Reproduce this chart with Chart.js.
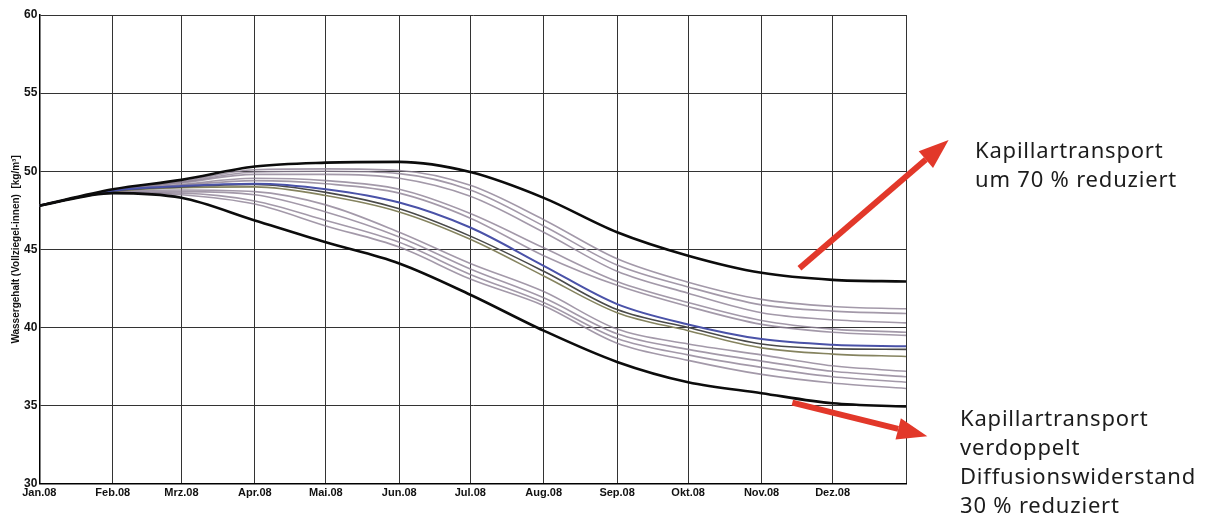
<!DOCTYPE html>
<html lang="de">
<head>
<meta charset="utf-8">
<title>Wassergehalt Vollziegel innen</title>
<script src="https://cdn.jsdelivr.net/npm/chart.js@4.4.1/dist/chart.umd.min.js"></script>
<style>
  html, body { margin: 0; padding: 0; background: #fff; }
  #wrap { position: relative; width: 1212px; height: 525px; }
  .note {
    position: absolute;
    font-family: "Noto Sans", "Open Sans", sans-serif;
    font-size: 22px;
    letter-spacing: 0.8px;
    line-height: 29px;
    color: #1c1c1c;
    white-space: nowrap;
  }
</style>
</head>
<body>
<div id="wrap">
  <canvas id="chart" width="1212" height="525"></canvas>
  <div class="note" style="left:975px; top:135px;">Kapillartransport<br>um 70 % reduziert</div>
  <div class="note" style="left:960px; top:403px;">Kapillartransport<br>verdoppelt<br>Diffusionswiderstand<br>30 % reduziert</div>
</div>
<script>
// day of year (2008) at the start of each month, last entry = 31 Dec end
const monthDays = [0, 31, 60, 91, 121, 152, 182, 213, 244, 274, 305, 335, 366];
const monthLabels = ["Jan.08", "Feb.08", "Mrz.08", "Apr.08", "Mai.08", "Jun.08",
  "Jul.08", "Aug.08", "Sep.08", "Okt.08", "Nov.08", "Dez.08", ""];
const yTicks = [30, 35, 40, 45, 50, 55, 60];

// water content [kg/m³] at each monthDays entry
const kapillar70 = [47.8, 48.85, 49.45, 50.3, 50.55, 50.6, 49.95, 48.3, 46.1, 44.6, 43.5, 43.05, 42.95];
const kapillarX2 = [47.8, 48.6, 48.3, 46.85, 45.45, 44.1, 42.1, 39.8, 37.8, 36.5, 35.8, 35.15, 34.95];
const basis = [47.8, 48.75, 49.05, 49.2, 48.85, 48.0, 46.4, 43.95, 41.5, 40.2, 39.26, 38.9, 38.8];
const varDunkel = [47.8, 48.72, 49.0, 49.15, 48.65, 47.6, 45.85, 43.6, 41.15, 40.0, 38.95, 38.65, 38.6];
const varOliv = [47.8, 48.7, 48.95, 49.0, 48.45, 47.4, 45.65, 43.3, 40.95, 39.8, 38.7, 38.3, 38.15];
const varA = [47.8, 48.82, 49.35, 50.1, 50.15, 50.05, 49.1, 46.9, 44.4, 42.9, 41.8, 41.35, 41.2];
const varB = [47.8, 48.8, 49.3, 49.95, 50.0, 49.85, 48.8, 46.5, 44.0, 42.6, 41.45, 41.05, 40.9];
const varC = [47.8, 48.78, 49.25, 49.8, 49.8, 49.55, 48.4, 46.1, 43.6, 42.2, 40.95, 40.5, 40.3];
const varD = [47.8, 48.76, 49.15, 49.55, 49.4, 48.85, 47.3, 45.1, 42.95, 41.6, 40.45, 39.9, 39.7];
const varE = [47.8, 48.74, 49.1, 49.4, 49.2, 48.6, 47.0, 44.6, 42.7, 41.35, 40.2, 39.7, 39.5];
const varF = [47.8, 48.68, 48.8, 48.7, 47.85, 46.1, 44.1, 42.3, 39.9, 38.95, 38.25, 37.55, 37.2];
const varG = [47.8, 48.66, 48.7, 48.5, 47.4, 45.8, 43.75, 41.9, 39.6, 38.6, 37.85, 37.2, 36.85];
const varH = [47.8, 48.64, 48.6, 48.1, 46.85, 45.45, 43.4, 41.6, 39.3, 38.25, 37.45, 36.85, 36.5];
const varI = [47.8, 48.62, 48.5, 47.9, 46.5, 45.15, 43.1, 41.4, 39.0, 37.9, 37.0, 36.45, 36.1];

// red arrows, given in axis units (day, kg/m³)
const arrows = [
  { from: [321, 43.8], to: [384, 52.0] },
  { from: [318, 35.2], to: [375, 33.05] }
];

function toPoints(values) {
  return values.map((v, i) => ({ x: monthDays[i], y: v }));
}

function line(values, color, width) {
  return {
    data: toPoints(values),
    borderColor: color,
    borderWidth: width,
    pointRadius: 0,
    fill: false,
    cubicInterpolationMode: "monotone"
  };
}

const grey = "rgba(140, 128, 148, 0.8)";

// first datasets are painted on top
const datasets = [
  line(kapillar70, "#0c0c0c", 2.6),
  line(kapillarX2, "#0c0c0c", 2.6),
  line(basis, "#4a52a8", 2.0),
  line(varDunkel, "#4a4a4a", 1.6),
  line(varOliv, "#85835f", 1.6),
  line(varA, grey, 1.6),
  line(varB, grey, 1.6),
  line(varC, grey, 1.6),
  line(varD, grey, 1.6),
  line(varE, grey, 1.6),
  line(varF, grey, 1.6),
  line(varG, grey, 1.6),
  line(varH, grey, 1.6),
  line(varI, grey, 1.6)
];

const arrowPlugin = {
  id: "arrows",
  afterDraw(chart) {
    const { ctx, scales } = chart;
    ctx.save();
    ctx.fillStyle = "#e2382a";
    ctx.strokeStyle = "#e2382a";
    arrows.forEach(a => {
      const x1 = scales.x.getPixelForValue(a.from[0]);
      const y1 = scales.y.getPixelForValue(a.from[1]);
      const x2 = scales.x.getPixelForValue(a.to[0]);
      const y2 = scales.y.getPixelForValue(a.to[1]);
      const ang = Math.atan2(y2 - y1, x2 - x1);
      const head = 30, half = 11;
      const bx = x2 - head * Math.cos(ang), by = y2 - head * Math.sin(ang);
      ctx.lineWidth = 6;
      ctx.beginPath();
      ctx.moveTo(x1, y1);
      ctx.lineTo(bx, by);
      ctx.stroke();
      ctx.beginPath();
      ctx.moveTo(x2, y2);
      ctx.lineTo(bx + half * Math.sin(ang), by - half * Math.cos(ang));
      ctx.lineTo(bx - half * Math.sin(ang), by + half * Math.cos(ang));
      ctx.closePath();
      ctx.fill();
    });
    ctx.restore();
  }
};

new Chart(document.getElementById("chart"), {
  type: "line",
  data: { datasets },
  options: {
    responsive: false,
    animation: false,
    devicePixelRatio: 1,
    layout: { padding: { left: 10, right: 306, top: 15, bottom: 22 } },
    plugins: { legend: { display: false }, tooltip: { enabled: false } },
    scales: {
      x: {
        type: "linear",
        min: 0,
        max: 366,
        afterBuildTicks: axis => { axis.ticks = monthDays.map(v => ({ value: v })); },
        ticks: {
          autoSkip: false,
          maxRotation: 0,
          padding: 3,
          color: "#111",
          font: { family: "Liberation Sans", size: 11, weight: "bold" },
          callback: (v, i) => monthLabels[i]
        },
        grid: { color: "#333", lineWidth: 1, drawTicks: false },
        border: { color: "#000", width: 1.5 }
      },
      y: {
        min: 30,
        max: 60,
        afterBuildTicks: axis => { axis.ticks = yTicks.map(v => ({ value: v })); },
        ticks: {
          padding: 2,
          color: "#111",
          font: { family: "Liberation Sans", size: 12, weight: "bold" }
        },
        grid: { color: "#333", lineWidth: 1, drawTicks: false },
        border: { color: "#000", width: 1.5 },
        title: {
          display: true,
          text: "Wassergehalt (Vollziegel-innen)  [kg/m³]",
          color: "#111",
          padding: { top: 0, bottom: 0 },
          font: { family: "Liberation Sans", size: 10, weight: "bold" }
        }
      }
    }
  },
  plugins: [arrowPlugin]
});
</script>
</body>
</html>
